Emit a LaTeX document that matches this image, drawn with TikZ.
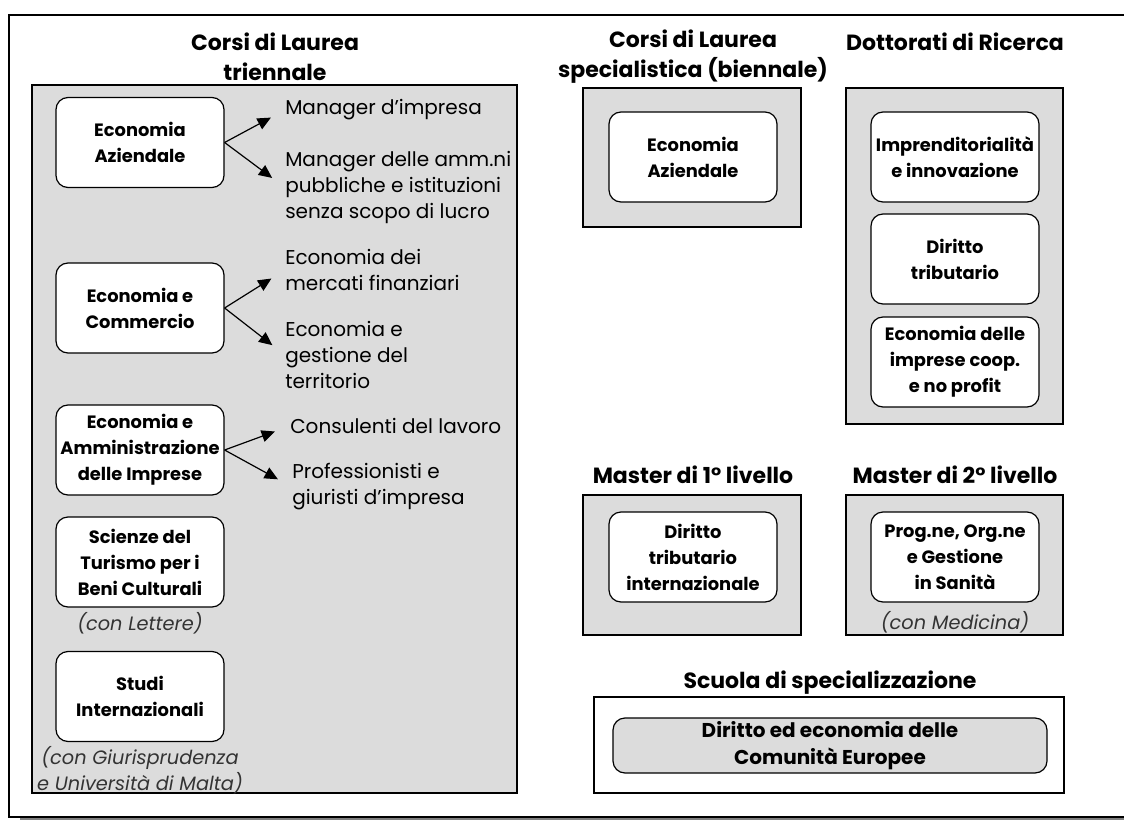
\documentclass[tikz,border=0pt]{standalone}
\usepackage{fontspec}
\setmainfont{Poppins}
\usetikzlibrary{arrows.meta}
\definecolor{panelgrey}{HTML}{DCDCDC}
\definecolor{notegrey}{HTML}{333333}

\begin{document}
\begin{tikzpicture}[x=0.75pt,y=-0.75pt]

      \tikzset{course/.style={draw, rounded corners=9pt, fill=white, line width=0.9pt, minimum width=126pt, minimum height=67.5pt, align=center, inner sep=1pt, font=\fontsize{13.4}{19.5}\selectfont\bfseries},
               panel/.style={draw, fill=panelgrey, line width=0.8pt, inner sep=0pt},
               heading/.style={align=center, font=\fontsize{16.5}{22.5}\selectfont\bfseries},
               outlet/.style={align=left, anchor=west, inner sep=0pt, font=\fontsize{15}{19.5}\selectfont},
               note/.style={align=center, text=notegrey, font=\fontsize{14.5}{19.5}\selectfont\itshape},
               arr/.style={-{Triangle[length=10pt,width=9pt]}, line width=0.9pt, shorten >=12pt}}
      \useasboundingbox (0,0) rectangle (1124,820);
%% Frame
      	\draw[line width=0.8pt] (1124,15) -- (9,15) -- (9,817) -- (1124,817);
      	\draw[gray, line width=2pt] (20,819.5) -- (1124,819.5);
%% Panels
      	\node[panel, minimum width=363.75pt, minimum height=531pt] (trpanel) at (274.5,439) {};
      	\node[panel, minimum width=163.5pt, minimum height=104.25pt] (sppanel) at (692,157.5) {};
      	\node[panel, minimum width=162.75pt, minimum height=252pt] (dtpanel) at (954.5,256) {};
      	\node[panel, minimum width=163.5pt, minimum height=105pt] (m1panel) at (692,565) {};
      	\node[panel, minimum width=162.75pt, minimum height=105pt] (m2panel) at (954.5,565) {};
      	\node[panel, fill=white, minimum width=352.5pt, minimum height=72pt] (scpanel) at (829,745) {};
%% Headings
      	\node[heading] (trhead) at (275,57) {Corsi di Laurea\\triennale};
      	\node[heading] (sphead) at (693,57) {Corsi di Laurea\\specialistica (biennale)};
      	\node[heading] (dthead) at (955,42) {Dottorati di Ricerca};
      	\node[heading] (m1head) at (693,475) {Master di 1° livello};
      	\node[heading] (m2head) at (955,475) {Master di 2° livello};
      	\node[heading] (schead) at (830,683) {Scuola di specializzazione};
%% Courses
      	\node[course] (eaz) at (140,142.5) {Economia\\Aziendale};
      	\node[course] (eco) at (140,308) {Economia e\\Commercio};
      	\node[course] (eam) at (140,450) {Economia e\\Amministrazione\\delle Imprese};
      	\node[course] (stu) at (140,562) {Scienze del\\Turismo per i\\Beni Culturali};
      	\node[course] (sin) at (140,696.5) {Studi\\Internazionali};
      	\node[course] (speaz) at (693,157) {Economia\\Aziendale};
      	\node[course] (dtimp) at (955,157) {Imprenditorialità\\e innovazione};
      	\node[course] (dtdir) at (955,259) {Diritto\\tributario};
      	\node[course] (dteco) at (955,362) {Economia delle\\imprese coop.\\e no profit};
      	\node[course] (madir) at (693,557) {Diritto\\tributario\\internazionale};
      	\node[course] (masan) at (955,557) {Prog.ne, Org.ne\\e Gestione\\in Sanità};
      	\node[course, fill=panelgrey, minimum width=325.5pt, minimum height=41.25pt, font=\fontsize{15}{20}\selectfont\bfseries] (scdir) at (830,745.5) {Diritto ed economia delle\\Comunità Europee};
%% Notes
      	\node[note] (stunote) at (140,623) {(con Lettere)};
      	\node[note] (sinnote) at (140,770) {(con Giurisprudenza\\e Università di Malta)};
      	\node[note] (sannote) at (955,622) {(con Medicina)};
%% Outlets
      	\node[outlet] (mgimp) at (285,110) {Manager d’impresa};
      	\node[outlet] (mgamm) at (285,187.5) {Manager delle amm.ni\\pubbliche e istituzioni\\senza scopo di lucro};
      	\node[outlet] (ecmer) at (285,270) {Economia dei\\mercati finanziari};
      	\node[outlet] (ecter) at (285,355) {Economia e\\gestione del\\territorio};
      	\node[outlet] (conlav) at (290,426) {Consulenti del lavoro};
      	\node[outlet] (progiu) at (292,487) {Professionisti e\\giuristi d’impresa};
%Edges
		\draw[arr] (eaz.east) -- (mgimp.west);
		\draw[arr] (eaz.east) -- (mgamm.west);
		\draw[arr] (eco.east) -- (ecmer.west);
		\draw[arr] (eco.east) -- (ecter.west);
		\draw[arr] (eam.east) -- (conlav.west);
		\draw[arr] (eam.east) -- (progiu.west);

	\end{tikzpicture}
\end{document}
